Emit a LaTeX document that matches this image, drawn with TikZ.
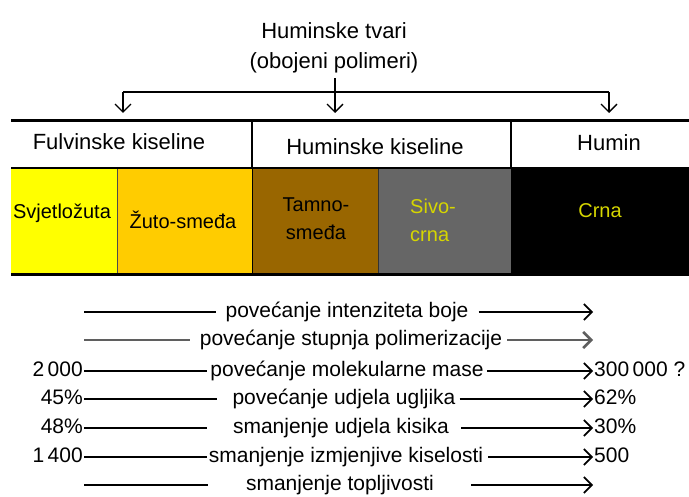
\documentclass[tikz,border=0pt]{standalone}
\usepackage{fontspec}
\setmainfont{Liberation Sans}
\usepackage{tikz}
\usetikzlibrary{arrows.meta,positioning}

\definecolor{svjetlo}{RGB}{255,255,0}
\definecolor{zuto}{RGB}{255,204,0}
\definecolor{tamno}{RGB}{153,102,0}
\definecolor{sivo}{RGB}{102,102,102}
\definecolor{crnatxt}{RGB}{214,214,0}
\definecolor{siva}{RGB}{95,95,95}

\begin{document}
\begin{tikzpicture}[x=1pt,y=-1pt,
		txt/.style={font=\fontsize{21}{25}\selectfont,inner sep=0pt},
		tip/.style={-{Straight Barb[length=8pt,width=16pt]},line width=1.3pt},
	]
	\useasboundingbox (0,0) rectangle (689,497);

	% naslov i strelice
	\node[font=\fontsize{22}{30}\selectfont,align=center,inner sep=0pt] (tvari) at (334,48) {Huminske tvari\\(obojeni polimeri)};
	\coordinate (bl) at (123,92);
	\coordinate (br) at (609,92);
	\coordinate (al) at (123,113);
	\coordinate (am) at (335,113);
	\coordinate (ar) at (609,113);
	\draw[line width=1.3pt] (bl) -- (br);
	\draw[tip] (bl) -- (al);
	\draw[tip] (br) -- (ar);
	\draw[tip] ([yshift=-5pt]tvari.south -| am) -- (am);

	% obojena polja
	\fill[svjetlo] (11,169) rectangle (117,275);
	\fill[zuto] (117,169) rectangle (252,275);
	\fill[tamno] (252,169) rectangle (378,275);
	\fill[sivo] (378,169) rectangle (511,275);
	\fill[black] (511,169) rectangle (689,275);
	\draw[line width=1pt,black!70] (117,169) -- (117,275);
	\draw[line width=1pt] (252,169) -- (252,275);
	\draw[line width=1pt,black!80] (378,169) -- (378,275);

	% tablica
	\draw[line width=3pt] (11,121) -- (689,121);
	\draw[line width=2pt] (11,168) -- (689,168);
	\draw[line width=2pt] (252,121) -- (252,168);
	\draw[line width=2pt] (511,121) -- (511,168);
	\draw[line width=3pt] (11,275) -- (689,275);

	\node[font=\fontsize{22}{26}\selectfont] (fulv) at (119,142) {Fulvinske kiseline};
	\node[font=\fontsize{22}{26}\selectfont] (humk) at (375,147) {Huminske kiseline};
	\node[font=\fontsize{22}{26}\selectfont] (humin) at (609,143) {Humin};

	\node[font=\fontsize{20}{28}\selectfont] (svj) at (62,213) {Svjetložuta};
	\node[font=\fontsize{20}{28}\selectfont] (zs) at (183,220) {Žuto-smeđa};
	\node[font=\fontsize{20}{28}\selectfont,align=center] (ts) at (316,219) {Tamno-\\smeđa};
	\node[font=\fontsize{20}{28}\selectfont,align=left,text=crnatxt] (sc) at (433,220) {Sivo-\\crna};
	\node[font=\fontsize{20}{28}\selectfont,text=crnatxt] (crna) at (600,211) {Crna};

	% svojstva
	\foreach \i/\y/\cx/\col/\lw/\gl/\gr/\txt in {
		1/312/347/black/1.6/9/10/{povećanje intenziteta boje},
		2/340/351/siva/2.6/10/5/{povećanje stupnja polimerizacije},
		3/371/347/black/1.6/3/3/{povećanje molekularne mase},
		4/399/344/black/1.6/15/4/{povećanje udjela ugljika},
		5/428/341/black/1.6/26/12/{smanjenje udjela kisika},
		6/457/346/black/1.6/2/5/{smanjenje izmjenjive kiselosti},
		7/485/340/black/1.6/38/37/{smanjenje topljivosti}}
	{
		\coordinate (l\i) at (84,\y);
		\coordinate (r\i) at (593,\y);
		\node[txt,text height=16pt,text depth=5pt] (t\i) at (\cx,\y) {\txt};
		\draw[line width=\lw pt,draw=\col] (l\i) -- ([xshift=-\gl pt]t\i.west);
		\draw[tip,line width=\lw pt,draw=\col] ([xshift=\gr pt]t\i.east) -- (r\i);
	}

	\node[txt,anchor=east,inner xsep=1pt,text height=16pt,text depth=5pt] (od3) at (l3) {2\,000};
	\node[txt,anchor=east,inner xsep=1pt,text height=16pt,text depth=5pt] (od4) at (l4) {45\%};
	\node[txt,anchor=east,inner xsep=1pt,text height=16pt,text depth=5pt] (od5) at (l5) {48\%};
	\node[txt,anchor=east,inner xsep=1pt,text height=16pt,text depth=5pt] (od6) at (l6) {1\,400};
	\node[txt,anchor=west,inner xsep=1pt,text height=16pt,text depth=5pt] (do3) at (r3) {300\,000 ?};
	\node[txt,anchor=west,inner xsep=1pt,text height=16pt,text depth=5pt] (do4) at (r4) {62\%};
	\node[txt,anchor=west,inner xsep=1pt,text height=16pt,text depth=5pt] (do5) at (r5) {30\%};
	\node[txt,anchor=west,inner xsep=1pt,text height=16pt,text depth=5pt] (do6) at (r6) {500};
\end{tikzpicture}
\end{document}
